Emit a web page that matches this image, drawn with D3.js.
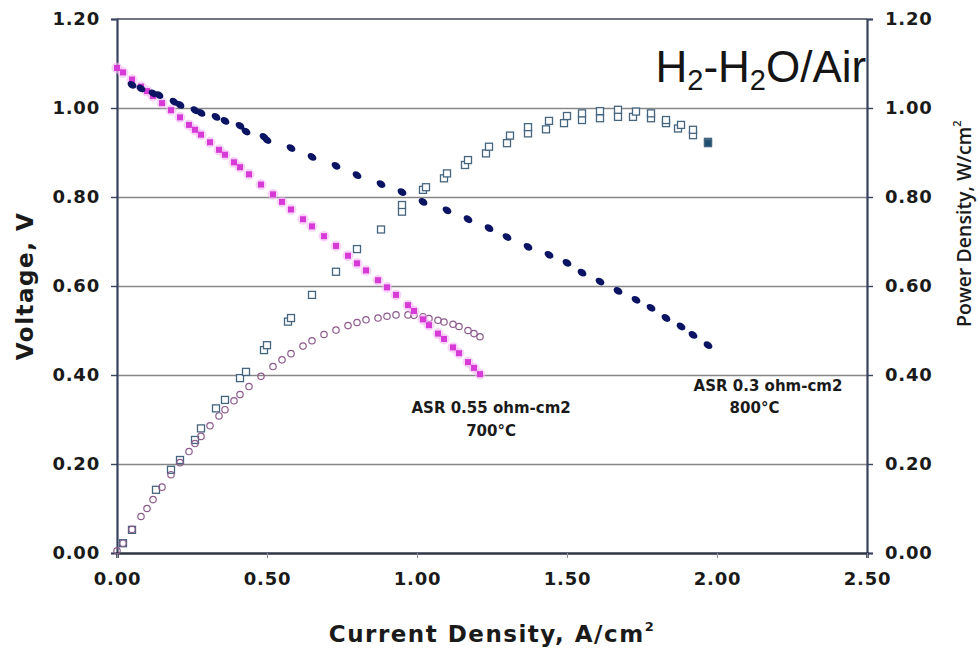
<!DOCTYPE html>
<html>
<head>
<meta charset="utf-8">
<script src="https://cdn.jsdelivr.net/npm/d3@7"></script>
<style>
  html, body { margin: 0; padding: 0; background: #fff; }
  svg { display: block; }
  .tick text { font-family: "DejaVu Sans", Verdana, sans-serif; font-weight: bold; font-size: 18px; fill: #1a1a1a; letter-spacing: 0.8px; }
</style>
</head>
<body>
<svg id="chart" width="980" height="658"></svg>
<script>
// Axis ticks
const currentTicks = [0, 0.5, 1.0, 1.5, 2.0, 2.5];
const voltageTicks = [0, 0.2, 0.4, 0.6, 0.8, 1.0, 1.2];
const powerTicks = [0, 0.2, 0.4, 0.6, 0.8, 1.0, 1.2];

// 800°C cell (ASR 0.3 ohm-cm2): current density (A/cm2) and voltage (V)
const current800 = [0.05, 0.08, 0.12, 0.14, 0.19, 0.21, 0.26, 0.28, 0.33, 0.36, 0.41, 0.43, 0.49, 0.50, 0.58, 0.65, 0.73, 0.80, 0.88, 0.95,
  1.02, 1.10, 1.17, 1.24, 1.30, 1.37, 1.44, 1.50, 1.55, 1.61, 1.67, 1.73, 1.78, 1.83, 1.88, 1.92, 1.97];
const voltage800 = [1.052, 1.044, 1.033, 1.029, 1.014, 1.007, 0.995, 0.989, 0.980, 0.971, 0.960, 0.947, 0.935, 0.928, 0.910, 0.890, 0.870, 0.849, 0.829, 0.811,
  0.789, 0.770, 0.750, 0.730, 0.710, 0.688, 0.670, 0.652, 0.630, 0.610, 0.589, 0.569, 0.551, 0.528, 0.509, 0.490, 0.467];

// 800°C cell: power density (W/cm2)
const powerCurrent800 = [0.02, 0.05, 0.13, 0.18, 0.21, 0.26, 0.28, 0.33, 0.36, 0.41, 0.43, 0.49, 0.50, 0.57, 0.58, 0.65, 0.73, 0.80, 0.88, 0.95,
  0.95, 1.02, 1.03, 1.09, 1.10, 1.16, 1.17, 1.23, 1.24, 1.30, 1.31, 1.37, 1.37, 1.43, 1.44, 1.49, 1.50, 1.55, 1.55, 1.61,
  1.61, 1.67, 1.67, 1.72, 1.73, 1.78, 1.78, 1.83, 1.83, 1.87, 1.88, 1.92, 1.92, 1.97, 1.97];
const power800 = [0.022, 0.052, 0.142, 0.187, 0.209, 0.254, 0.280, 0.325, 0.344, 0.393, 0.407, 0.456, 0.467, 0.520, 0.528, 0.580, 0.632, 0.683, 0.727, 0.767,
  0.782, 0.816, 0.822, 0.842, 0.853, 0.872, 0.883, 0.898, 0.913, 0.921, 0.938, 0.943, 0.957, 0.952, 0.971, 0.966, 0.982, 0.973, 0.988, 0.977,
  0.993, 0.980, 0.996, 0.980, 0.992, 0.977, 0.988, 0.966, 0.973, 0.954, 0.962, 0.939, 0.951, 0.924, 0.921];

// 700°C cell (ASR 0.55 ohm-cm2): current density, voltage and power density
const current700 = [0.00, 0.02, 0.05, 0.08, 0.10, 0.12, 0.15, 0.18, 0.21, 0.24, 0.26, 0.28, 0.31, 0.34, 0.36, 0.39, 0.41, 0.44, 0.48, 0.52,
  0.55, 0.58, 0.62, 0.65, 0.69, 0.73, 0.77, 0.80, 0.83, 0.87, 0.90, 0.93, 0.97, 0.99, 1.02, 1.04, 1.07, 1.09, 1.12, 1.14,
  1.17, 1.19, 1.21];
const voltage700 = [1.090, 1.080, 1.064, 1.048, 1.038, 1.027, 1.011, 0.995, 0.979, 0.962, 0.951, 0.940, 0.923, 0.906, 0.895, 0.878, 0.867, 0.851, 0.828, 0.806,
  0.789, 0.772, 0.750, 0.734, 0.712, 0.690, 0.668, 0.651, 0.635, 0.613, 0.597, 0.580, 0.557, 0.544, 0.525, 0.512, 0.493, 0.481, 0.462, 0.449,
  0.429, 0.416, 0.402];
const power700 = [0.005, 0.022, 0.053, 0.082, 0.100, 0.120, 0.148, 0.176, 0.203, 0.228, 0.246, 0.262, 0.286, 0.308, 0.322, 0.342, 0.356, 0.374, 0.397, 0.419,
  0.434, 0.448, 0.465, 0.477, 0.491, 0.501, 0.511, 0.518, 0.524, 0.528, 0.532, 0.535, 0.535, 0.534, 0.531, 0.527, 0.523, 0.519, 0.514, 0.509,
  0.500, 0.493, 0.486];

const svg = d3.select("#chart");
const margin = { left: 117, right: 113, top: 19, bottom: 105 };
const W = 980, H = 658;
const plotW = W - margin.left - margin.right;
const plotH = H - margin.top - margin.bottom;

const x = d3.scaleLinear().domain([0, 2.5]).range([margin.left, margin.left + plotW]);
const yV = d3.scaleLinear().domain([0, 1.2]).range([margin.top + plotH, margin.top]);
const yP = d3.scaleLinear().domain([0, 1.2]).range([margin.top + plotH, margin.top]);

const fmt = d3.format(".2f");

// Horizontal gridlines
svg.append("g")
  .attr("transform", `translate(${margin.left},0)`)
  .call(d3.axisLeft(yV).tickValues(voltageTicks.filter(v => v > 0 && v < 1.2)).tickSize(-plotW).tickFormat(""))
  .call(g => g.select(".domain").remove())
  .call(g => g.selectAll("line").attr("stroke", "#878787").attr("stroke-width", 1.6));

// Top frame
svg.append("line")
  .attr("x1", margin.left).attr("x2", margin.left + plotW)
  .attr("y1", yV(1.2)).attr("y2", yV(1.2))
  .attr("stroke", "#6f7580").attr("stroke-width", 2);

// Left voltage axis
svg.append("g")
  .attr("transform", `translate(${margin.left},0)`)
  .call(d3.axisLeft(yV).tickValues(voltageTicks).tickFormat(fmt).tickSize(6).tickPadding(11))
  .call(g => g.select(".domain").attr("stroke", "#37425e").attr("stroke-width", 2.2))
  .call(g => g.selectAll(".tick line").attr("stroke", "#37425e").attr("stroke-width", 1.4));

// Right power-density axis
svg.append("g")
  .attr("transform", `translate(${margin.left + plotW},0)`)
  .call(d3.axisRight(yP).tickValues(powerTicks).tickFormat(fmt).tickSize(6).tickPadding(12))
  .call(g => g.select(".domain").attr("stroke", "#37425e").attr("stroke-width", 2.2))
  .call(g => g.selectAll(".tick line").attr("stroke", "#37425e").attr("stroke-width", 1.4));

// Bottom current-density axis
svg.append("g")
  .attr("transform", `translate(0,${margin.top + plotH})`)
  .call(d3.axisBottom(x).tickValues(currentTicks).tickFormat(fmt).tickSize(5).tickPadding(14))
  .call(g => g.select(".domain").attr("stroke", "#2f3648").attr("stroke-width", 2.6))
  .call(g => g.selectAll(".tick line").attr("stroke", "#8a8f99").attr("stroke-width", 1));

// 800°C power density: open squares
const pts800P = powerCurrent800.map((c, i) => ({ c, p: power800[i] }));
svg.append("g").selectAll("rect")
  .data(pts800P)
  .join("rect")
  .attr("x", d => x(d.c) - 3.5)
  .attr("y", d => yP(d.p) - 3.5)
  .attr("width", 7).attr("height", 7)
  .attr("fill", (d, i) => i >= pts800P.length - 2 ? "#1d4f70" : "#ffffff")
  .attr("stroke", "#46657f").attr("stroke-width", 1.3);

// 700°C power density: open circles
const pts700 = current700.map((c, i) => ({ c, v: voltage700[i], p: power700[i] }));
svg.append("g").selectAll("circle")
  .data(pts700)
  .join("circle")
  .attr("cx", d => x(d.c))
  .attr("cy", d => yP(d.p))
  .attr("r", 3.2)
  .attr("fill", "none")
  .attr("stroke", "#8c5c8c").attr("stroke-width", 1.2);

// 700°C voltage: magenta markers with a soft band
svg.append("g").selectAll("circle")
  .data(pts700)
  .join("circle")
  .attr("cx", d => x(d.c))
  .attr("cy", d => yV(d.v))
  .attr("r", 5.5)
  .attr("fill", "#f4b8f4").attr("opacity", 0.6);
svg.append("g").selectAll("rect")
  .data(pts700)
  .join("rect")
  .attr("x", d => x(d.c) - 3)
  .attr("y", d => yV(d.v) - 3)
  .attr("width", 6).attr("height", 6)
  .attr("fill", "#d83ad8");

// 800°C voltage: dark navy filled markers
const pts800V = current800.map((c, i) => ({ c, v: voltage800[i] }));
svg.append("g").selectAll("ellipse")
  .data(pts800V)
  .join("ellipse")
  .attr("transform", d => `translate(${x(d.c)},${yV(d.v)}) rotate(35)`)
  .attr("rx", 4.8).attr("ry", 3.4)
  .attr("fill", "#0b1462");

// Annotations
const labelFont = "'DejaVu Sans', Verdana, sans-serif";
const notes = [
  { c: 1.247, v: 0.315, text: "ASR 0.55 ohm-cm2" },
  { c: 1.247, v: 0.263, text: "700°C" },
  { c: 2.17, v: 0.364, text: "ASR 0.3 ohm-cm2" },
  { c: 2.125, v: 0.315, text: "800°C" }
];
svg.append("g").selectAll("text")
  .data(notes)
  .join("text")
  .attr("x", d => x(d.c))
  .attr("y", d => yV(d.v))
  .attr("text-anchor", "middle")
  .attr("font-family", labelFont)
  .attr("font-weight", "bold")
  .attr("font-size", 15)
  .attr("fill", "#1a1a1a")
  .text(d => d.text);

// Gas composition label
const gas = svg.append("text")
  .attr("x", x(1.795))
  .attr("y", yV(1.058))
  .attr("font-family", "'Liberation Sans', Arial, sans-serif")
  .attr("font-size", 44)
  .attr("fill", "#151515");
gas.append("tspan").text("H");
gas.append("tspan").attr("font-size", 29).attr("dy", 8).text("2");
gas.append("tspan").attr("dy", -8).text("-H");
gas.append("tspan").attr("font-size", 29).attr("dy", 8).text("2");
gas.append("tspan").attr("dy", -8).text("O/Air");

// Axis titles
const xTitle = svg.append("text")
  .attr("x", (x(0) + x(2.5)) / 2)
  .attr("y", 642)
  .attr("text-anchor", "middle")
  .attr("font-family", labelFont)
  .attr("font-weight", "bold")
  .attr("font-size", 23)
  .attr("letter-spacing", 1.5)
  .attr("fill", "#1a1a1a");
xTitle.append("tspan").text("Current Density, A/cm");
xTitle.append("tspan").attr("font-size", 13).attr("dy", -11).text("2");

svg.append("text")
  .attr("transform", `translate(33,${(yV(0) + yV(1.2)) / 2}) rotate(-90)`)
  .attr("text-anchor", "middle")
  .attr("font-family", labelFont)
  .attr("font-weight", "bold")
  .attr("font-size", 23)
  .attr("letter-spacing", 1.5)
  .attr("fill", "#1a1a1a")
  .text("Voltage, V");

const yRTitle = svg.append("text")
  .attr("transform", `translate(971,${yP(0.74)}) rotate(-90)`)
  .attr("text-anchor", "middle")
  .attr("font-family", "'Open Sans', 'DejaVu Sans', sans-serif")
  .attr("font-weight", 600)
  .attr("font-size", 19.5)
  .attr("fill", "#1a1a1a");
yRTitle.append("tspan").text("Power Density, W/cm");
yRTitle.append("tspan").attr("font-size", 11).attr("dy", -10).text("2");
</script>
</body>
</html>
